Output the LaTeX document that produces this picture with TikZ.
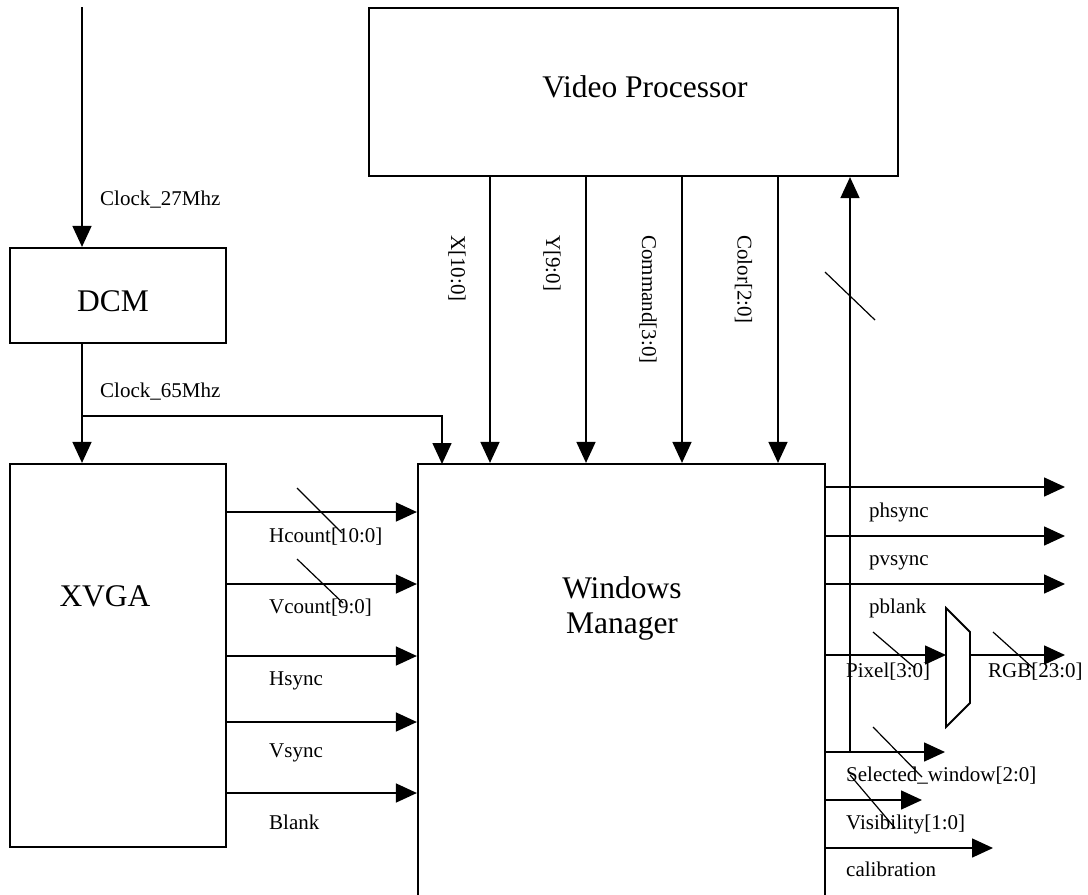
\documentclass[tikz,border=0pt]{standalone}
\usepackage{fontspec}
\setmainfont{Liberation Serif}
\usetikzlibrary{arrows.meta}
\begin{document}
\begin{tikzpicture}[x=1pt,y=-1pt,
  box/.style={draw, line width=2.2pt, rectangle, inner sep=0pt},
  wire/.style={line width=1.6pt},
  arr/.style={wire, -{Triangle[length=21pt,width=19pt]}},
  slash/.style={line width=1.2pt},
  big/.style={font=\fontsize{31.5}{35}\selectfont, inner sep=0pt},
  sml/.style={font=\fontsize{21}{25}\selectfont, inner sep=0pt, anchor=base west},
  vlab/.style={font=\fontsize{21}{25}\selectfont, inner sep=0pt, rotate=-90, anchor=west}]
\useasboundingbox (0,0) rectangle (1088,895);
\clip (0,0) rectangle (1088,895);
\fill[white] (0,0) rectangle (1088,895);

% blocks
\node[box, minimum width=216pt, minimum height=95pt] (dcm) at (118,295.5) {};
\node[big, anchor=base] (dcmt) at (113,311) {DCM};
\node[box, minimum width=216pt, minimum height=383pt] (xvga) at (118,655.5) {};
\node[big, anchor=base] (xvgat) at (105,606) {XVGA};
\node[box, minimum width=529pt, minimum height=168pt] (vp) at (633.5,92) {};
\node[big, anchor=base] (vpt) at (645,97) {Video Processor};
\node[box, minimum width=407pt, minimum height=451pt] (wm) at (621.5,689.5) {};
\node[big, anchor=base] (wmt1) at (622,598) {Windows};
\node[big, anchor=base] (wmt2) at (622,633) {Manager};

% mux
\coordinate (muxin) at (946,655);
\coordinate (muxout) at (970,655);
\draw[line width=1.8pt] (946,608) -- (970,632) -- (970,703) -- (946,727) -- cycle;

% clocks
\coordinate (clktop) at (82,7);
\coordinate (j65) at (82,416);
\coordinate (wmclk) at (442,464);
\draw[arr] (clktop) -- (clktop |- dcm.north);
\node[sml] (l27) at (100,205) {Clock\_27Mhz};
\draw[wire] (j65 |- dcm.south) -- (j65);
\draw[arr] (j65) -- (j65 |- xvga.north);
\draw[arr] (j65) -| (wmclk);
\node[sml] (l65) at (100,397) {Clock\_65Mhz};

% video processor to windows manager
\foreach \xx/\nm/\lx/\txt in {490/cx/457/{X[10:0]}, 586/cy/552/{Y[9:0]}, 682/cc/648/{Command[3:0]}, 778/ccol/743.5/{Color[2:0]}}{
  \coordinate (\nm) at (\xx,0);
  \draw[arr] (\nm |- vp.south) -- (\nm |- wm.north);
  \node[vlab] at (\lx,235) {\txt};
}

% xvga to windows manager
\foreach \yy/\nm/\ly/\txt in {512/h1/542/{Hcount[10:0]}, 584/h2/613/{Vcount[9:0]}, 656/h3/685/{Hsync}, 722/h4/757/{Vsync}, 793/h5/829/{Blank}}{
  \coordinate (\nm) at (0,\yy);
  \draw[arr] (xvga.east |- \nm) -- (wm.west |- \nm);
  \node[sml] at (269,\ly) {\txt};
}
\draw[slash] (297,488) -- (342,533);
\draw[slash] (297,559) -- (343,603);

% outputs
\coordinate (o1) at (1065,487);
\coordinate (o2) at (1065,536);
\coordinate (o3) at (1065,584);
\coordinate (o4) at (1065,655);
\coordinate (o5) at (945,752);
\coordinate (o6) at (922,800);
\coordinate (o7) at (993,848);
\coordinate (sw) at (850,752);
\draw[arr] (wm.east |- o1) -- (o1);
\draw[arr] (wm.east |- o2) -- (o2);
\draw[arr] (wm.east |- o3) -- (o3);
\draw[arr] (wm.east |- muxin) -- (muxin);
\draw[arr] (muxout) -- (o4);
\draw[arr] (wm.east |- o5) -- (o5);
\draw[arr] (wm.east |- o6) -- (o6);
\draw[arr] (wm.east |- o7) -- (o7);
\draw[arr] (sw) -- (sw |- vp.south);

\node[sml] at (869,517) {phsync};
\node[sml] at (869,565) {pvsync};
\node[sml] at (869,613) {pblank};
\node[sml] at (846,677) {Pixel[3:0]};
\node[sml] at (988,677) {RGB[23:0]};
\node[sml] at (846,781) {Selected\_window[2:0]};
\node[sml] at (846,829) {Visibility[1:0]};
\node[sml] at (846,876) {calibration};

\draw[slash] (825,272) -- (875,320);
\draw[slash] (873,632) -- (915,668);
\draw[slash] (993,632) -- (1033,668);
\draw[slash] (873,727) -- (922,777);
\draw[slash] (850,775) -- (895,828);
\end{tikzpicture}
\end{document}
